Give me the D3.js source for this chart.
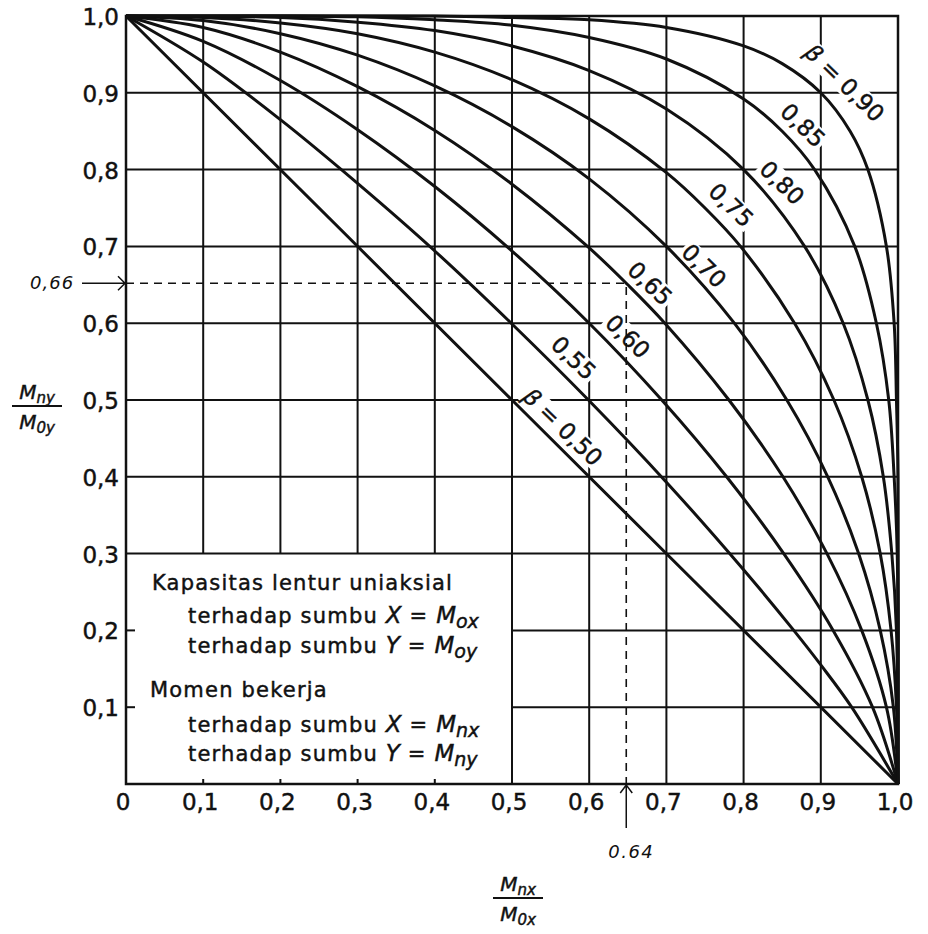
<!DOCTYPE html>
<html>
<head>
<meta charset="utf-8">
<script src="https://cdn.jsdelivr.net/npm/d3@7"></script>
<style>
  body { margin: 0; background: #fff; }
  svg { display: block; font-family: "DejaVu Sans", sans-serif; }
  .bold-ish { stroke: #111; stroke-width: 0.45px; }
</style>
</head>
<body>
<div id="vis"></div>
<script>
const svgWidth = 928;
const svgHeight = 934;

// beta contours as (Mnx/M0x, Mny/M0y) pairs
const betas = [0.50, 0.55, 0.60, 0.65, 0.70, 0.75, 0.80, 0.85, 0.90];
const curve050 = [[0, 1], [0.5, 0.5], [1, 0]];
const curve055 = [[0, 1], [0.1, 0.94], [0.2, 0.865], [0.3, 0.782], [0.4, 0.694], [0.5, 0.599], [0.6, 0.499], [0.7, 0.393], [0.8, 0.279], [0.865, 0.2], [0.9, 0.155], [0.94, 0.1], [1, 0]];
const curve060 = [[0, 1], [0.1, 0.967], [0.2, 0.916], [0.3, 0.852], [0.4, 0.778], [0.5, 0.694], [0.6, 0.6], [0.694, 0.5], [0.778, 0.4], [0.852, 0.3], [0.916, 0.2], [0.967, 0.1], [1, 0]];
const curve065 = [[0, 1], [0.1, 0.985], [0.2, 0.953], [0.3, 0.908], [0.4, 0.851], [0.5, 0.781], [0.6, 0.698], [0.65, 0.65], [0.698, 0.6], [0.781, 0.5], [0.851, 0.4], [0.908, 0.3], [0.953, 0.2], [0.985, 0.1], [1, 0]];
const curve070 = [[0, 1], [0.1, 0.994], [0.2, 0.977], [0.3, 0.949], [0.4, 0.909], [0.5, 0.856], [0.6, 0.788], [0.7, 0.7], [0.788, 0.6], [0.856, 0.5], [0.909, 0.4], [0.949, 0.3], [0.977, 0.2], [0.994, 0.1], [1, 0]];
const curve075 = [[0, 1], [0.1, 0.998], [0.2, 0.991], [0.3, 0.977], [0.4, 0.953], [0.5, 0.917], [0.6, 0.866], [0.7, 0.796], [0.75, 0.75], [0.796, 0.7], [0.866, 0.6], [0.917, 0.5], [0.953, 0.4], [0.977, 0.3], [0.991, 0.2], [0.998, 0.1], [1, 0]];
const curve080 = [[0, 1], [0.2, 0.998], [0.3, 0.992], [0.4, 0.981], [0.5, 0.961], [0.6, 0.929], [0.7, 0.879], [0.8, 0.8], [0.879, 0.7], [0.929, 0.6], [0.961, 0.5], [0.981, 0.4], [0.992, 0.3], [0.998, 0.2], [1, 0]];
const curve085 = [[0, 1], [0.3, 0.999], [0.4, 0.995], [0.5, 0.988], [0.6, 0.972], [0.7, 0.944], [0.8, 0.892], [0.85, 0.85], [0.892, 0.8], [0.944, 0.7], [0.972, 0.6], [0.988, 0.5], [0.995, 0.4], [0.999, 0.3], [1, 0]];
const curve090 = [[0, 1], [0.4, 1], [0.5, 0.998], [0.6, 0.995], [0.7, 0.985], [0.8, 0.961], [0.85, 0.938], [0.9, 0.9], [0.938, 0.85], [0.961, 0.8], [0.985, 0.7], [0.995, 0.6], [0.998, 0.5], [1, 0.4], [1, 0]];
const curves = [curve050, curve055, curve060, curve065, curve070, curve075, curve080, curve085, curve090];

const curveLabels = ['0,50', '0,55', '0,60', '0,65', '0,70', '0,75', '0,80', '0,85', '0,90'];
// where each label sits on the chart (data units)
const labelAt = [[0.566, 0.465], [0.580, 0.555], [0.650, 0.583], [0.679, 0.652], [0.749, 0.675], [0.784, 0.754], [0.850, 0.783], [0.877, 0.858], [0.931, 0.913]];

const xTicks = [0, 0.1, 0.2, 0.3, 0.4, 0.5, 0.6, 0.7, 0.8, 0.9, 1.0];
const xTickLabels = ['0', '0,1', '0,2', '0,3', '0,4', '0,5', '0,6', '0,7', '0,8', '0,9', '1,0'];
const yTicks = [0.1, 0.2, 0.3, 0.4, 0.5, 0.6, 0.7, 0.8, 0.9, 1.0];
const yTickLabels = ['0,1', '0,2', '0,3', '0,4', '0,5', '0,6', '0,7', '0,8', '0,9', '1,0'];
const gridVals = [0.1, 0.2, 0.3, 0.4, 0.5, 0.6, 0.7, 0.8, 0.9];

// legend box covers this corner of the grid
const boxX = [0, 0.5];
const boxY = [0, 0.3];

// worked example drawn by hand
const guide = { x: 0.648, y: 0.652, xText: '0.64', yText: '0,66' };

const svg = d3.select('#vis').append('svg').attr('width', svgWidth).attr('height', svgHeight);
svg.append('rect').attr('width', svgWidth).attr('height', svgHeight).attr('fill', '#fff');

const x = d3.scaleLinear().domain([0, 1]).range([126, 898]);
const y = d3.scaleLinear().domain([0, 1]).range([784, 16]);

const ink = '#111';

// grid
const grid = svg.append('g').attr('stroke', ink).attr('stroke-width', 2);
gridVals.forEach((v) => {
  const bottom = v < boxX[1] ? boxY[1] : 0;
  grid.append('line').attr('x1', x(v)).attr('x2', x(v)).attr('y1', y(1)).attr('y2', y(bottom));
  const left = v < boxY[1] ? boxX[1] : 0;
  grid.append('line').attr('x1', x(left)).attr('x2', x(1)).attr('y1', y(v)).attr('y2', y(v));
});

// small ticks inside the legend box
[0.1, 0.2].forEach((v) => {
  grid.append('line').attr('x1', x(0)).attr('x2', x(0) + 9).attr('y1', y(v)).attr('y2', y(v));
});
[0.1, 0.2, 0.3, 0.4].forEach((v) => {
  grid.append('line').attr('x1', x(v)).attr('x2', x(v)).attr('y1', y(0)).attr('y2', y(0) - 5);
});

// frame
svg.append('rect')
  .attr('x', x(0)).attr('y', y(1))
  .attr('width', x(1) - x(0)).attr('height', y(0) - y(1))
  .attr('fill', 'none').attr('stroke', ink).attr('stroke-width', 2.5);

// label groups (white backing first so grid lines break around them)
const labelLayer = svg.append('g');
const labelGroups = labelAt.map((p, i) => {
  const g = labelLayer.append('g').attr('transform', `translate(${x(p[0])},${y(p[1])}) rotate(44)`);
  const t = g.append('text')
    .attr('class', 'bold-ish')
    .attr('text-anchor', 'middle')
    .attr('dy', '0.36em')
    .attr('font-size', 23)
    .attr('fill', ink);
  if (i === 0 || i === curveLabels.length - 1) {
    t.append('tspan').attr('font-style', 'italic').text('β');
    t.append('tspan').text(' = ' + curveLabels[i]);
  } else {
    t.text(curveLabels[i]);
  }
  const bb = t.node().getBBox();
  g.insert('rect', 'text')
    .attr('x', bb.x - 2).attr('y', bb.y + 2)
    .attr('width', bb.width + 4).attr('height', bb.height - 4)
    .attr('fill', '#fff');
  return g;
});

// contours
const line = d3.line()
  .x((d) => x(d[0]))
  .y((d) => y(d[1]))
  .curve(d3.curveCatmullRom.alpha(0.5));

svg.append('g').selectAll('path').data(curves).join('path')
  .attr('d', line)
  .attr('fill', 'none')
  .attr('stroke', ink)
  .attr('stroke-width', 3)
  .attr('stroke-linejoin', 'round');

// bring label text above the curves
labelGroups.forEach((g) => g.raise());

// dashed guide lines
svg.append('path')
  .attr('d', `M${x(0)},${y(guide.y)}H${x(guide.x)}V${y(0)}`)
  .attr('fill', 'none')
  .attr('stroke', ink)
  .attr('stroke-width', 1.6)
  .attr('stroke-dasharray', '8,6');

// hand-drawn arrows + values
const hand = svg.append('g').attr('stroke', ink).attr('stroke-width', 1.5).attr('fill', 'none');
hand.append('path').attr('d', `M${x(0) - 44},${y(guide.y)}H${x(0) - 1}M${x(0) - 8},${y(guide.y) - 7}L${x(0) - 1},${y(guide.y)}L${x(0) - 8},${y(guide.y) + 7}`);
hand.append('path').attr('d', `M${x(guide.x)},${y(0) + 44}V${y(0) + 1}M${x(guide.x) - 6},${y(0) + 9}L${x(guide.x)},${y(0) + 1}L${x(guide.x) + 6},${y(0) + 9}`);

svg.append('text')
  .attr('x', x(0) - 96).attr('y', y(guide.y) + 6)
  .attr('font-size', 18).attr('font-style', 'italic').attr('letter-spacing', 1)
  .attr('fill', ink)
  .text(guide.yText);
svg.append('text')
  .attr('x', x(guide.x) + 5).attr('y', y(0) + 74)
  .attr('text-anchor', 'middle')
  .attr('font-size', 18).attr('font-style', 'italic').attr('letter-spacing', 1.5)
  .attr('fill', ink)
  .text(guide.xText);

// tick labels
svg.append('g').selectAll('text').data(xTicks).join('text')
  .attr('class', 'bold-ish')
  .attr('x', (d) => x(d) - 3)
  .attr('y', y(0) + 26)
  .attr('text-anchor', 'middle')
  .attr('font-size', 23)
  .attr('fill', ink)
  .text((d, i) => xTickLabels[i]);

svg.append('g').selectAll('text').data(yTicks).join('text')
  .attr('class', 'bold-ish')
  .attr('x', x(0) - 7)
  .attr('y', (d) => y(d) + 9)
  .attr('text-anchor', 'end')
  .attr('font-size', 23)
  .attr('fill', ink)
  .text((d, i) => yTickLabels[i]);

// axis titles as fractions
function fraction(cx, cy, top, topSub, bottom, bottomSub) {
  const g = svg.append('g').attr('fill', ink);
  const num = g.append('text').attr('x', cx).attr('y', cy - 7).attr('text-anchor', 'middle')
    .attr('class', 'bold-ish').attr('font-size', 20).attr('font-style', 'italic');
  num.append('tspan').text(top);
  num.append('tspan').attr('font-size', 15).attr('dy', 4).text(topSub);
  const den = g.append('text').attr('x', cx).attr('y', cy + 23).attr('text-anchor', 'middle')
    .attr('class', 'bold-ish').attr('font-size', 20).attr('font-style', 'italic');
  den.append('tspan').text(bottom);
  den.append('tspan').attr('font-size', 15).attr('dy', 4).text(bottomSub);
  g.append('line').attr('x1', cx - 25).attr('x2', cx + 25).attr('y1', cy).attr('y2', cy)
    .attr('stroke', ink).attr('stroke-width', 1.8);
}
fraction(37, 406, 'M', 'ny', 'M', '0y');
fraction(518, 898, 'M', 'nx', 'M', '0x');

// legend text
const legendLines = [
  { x: 152, y: 590, parts: [['Kapasitas lentur uniaksial']] },
  { x: 188, y: 623, parts: [['terhadap sumbu '], ['X', 'i'], [' = '], ['M', 'i'], ['ox', 's']] },
  { x: 188, y: 653, parts: [['terhadap sumbu '], ['Y', 'i'], [' = '], ['M', 'i'], ['oy', 's']] },
  { x: 150, y: 697, parts: [['Momen bekerja']] },
  { x: 188, y: 732, parts: [['terhadap sumbu '], ['X', 'i'], [' = '], ['M', 'i'], ['nx', 's']] },
  { x: 188, y: 761, parts: [['terhadap sumbu '], ['Y', 'i'], [' = '], ['M', 'i'], ['ny', 's']] },
];
const legend = svg.append('g').attr('class', 'bold-ish').attr('fill', ink).attr('font-size', 21).attr('letter-spacing', 1.2);
legendLines.forEach((ln) => {
  const t = legend.append('text').attr('x', ln.x).attr('y', ln.y);
  ln.parts.forEach(([s, kind]) => {
    const ts = t.append('tspan').text(s);
    if (kind === 'i') ts.attr('font-style', 'italic').attr('font-size', 23).attr('letter-spacing', 0);
    if (kind === 's') ts.attr('font-style', 'italic').attr('font-size', 19).attr('dy', 5).attr('letter-spacing', 0);
  });
});
</script>
</body>
</html>
